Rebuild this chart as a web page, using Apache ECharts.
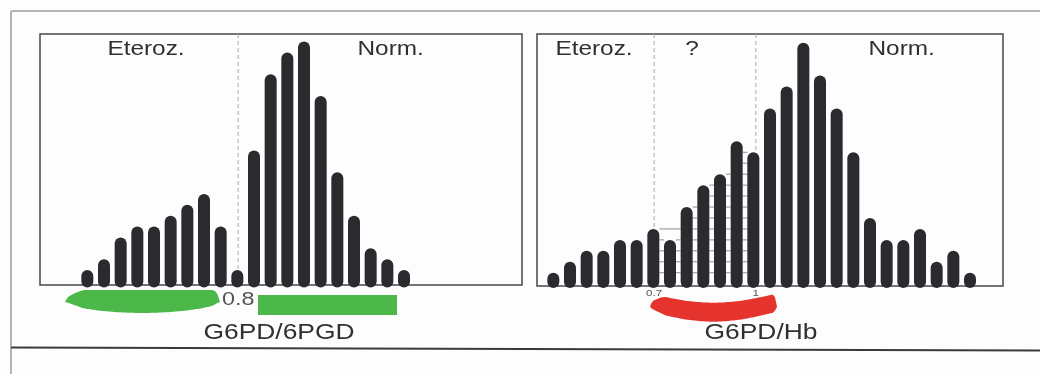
<!DOCTYPE html>
<html>
<head>
<meta charset="utf-8">
<script src="https://cdn.jsdelivr.net/npm/echarts@6/dist/echarts.min.js"></script>
<style>
html,body{margin:0;padding:0;background:#fdfdfd;}
#chart{width:1040px;height:374px;}
</style>
</head>
<body>
<div id="chart"></div>
<script>
// ---- data (bar index = class of the ratio, value = number of subjects) ----
const leftCounts  = [1,2,4,5,5,6,7,8,5,1,12,19,21,22,17,10,6,3,2,1];
const rightCounts = [1,2,3,3,4,4,5,4,7,9,10,13,12,16,18,22,19,16,12,6,4,4,5,2,3,1];

const leftCuts = [9.05];
const leftCutLabels = ['0.8'];
const rightCuts = [6.05, 12.15];
const rightCutLabels = ['0.7', '1'];

const leftTitleNames = ['Eteroz.', 'Norm.'];
const leftTitlePos = [3.52, 18.2];
const rightTitleNames = ['Eteroz.', '?', 'Norm.'];
const rightTitlePos = [2.44, 8.32, 20.9];

const axisTitles = ['G6PD/6PGD', 'G6PD/Hb'];

const leftGreenArc = [-1.34, 7.96];
const leftGreenBar = [10.24, 18.58];
const rightRedArc = [5.8, 13.42];
const rightHatch = [6, 12];

// ---- styling ----
const BAR = '#2a2b2e';
const TXT = '#303030';
const GREEN = '#4db84a';
const RED = '#e5332e';
const FONT = '"Liberation Sans", Arial, sans-serif';

const yRange = [[-0.37, 22.7], [-0.21, 22.8]];
const barFloor = [-0.6, -0.4];

function barSeries(g, counts) {
  return {
    type: 'custom', xAxisIndex: g, yAxisIndex: g, clip: false, z: 5,
    data: counts.map((c, i) => [i, c]),
    encode: {x: 0, y: 1},
    renderItem: function (params, api) {
      const x = api.value(0), h = api.value(1);
      const top = api.coord([x, h]);
      const bot = api.coord([x, barFloor[g]]);
      const w = api.size([1, 0])[0] * 0.72;
      return {type: 'rect', shape: {x: top[0] - w / 2, y: top[1], width: w, height: bot[1] - top[1], r: w / 2},
              style: {fill: BAR}};
    }
  };
}

function cutSeries(g, cuts, labels, fs, off) {
  return {
    type: 'custom', xAxisIndex: g, yAxisIndex: g, clip: false, z: 2,
    data: cuts.map(c => [c, 0]),
    encode: {x: 0, y: 1},
    renderItem: function (params, api) {
      const x = api.value(0);
      const a = api.coord([x, yRange[g][1]]);
      const b = api.coord([x, yRange[g][0]]);
      return {type: 'group', children: [
        {type: 'line', shape: {x1: a[0], y1: a[1], x2: b[0], y2: b[1]},
         style: {stroke: '#a8a8a8', lineWidth: 1, lineDash: [4, 3]}},
        {type: 'text', x: b[0], y: b[1] + off, scaleX: 1.3,
         style: {text: labels[params.dataIndex], fill: '#555', font: fs + 'px ' + FONT,
                 textAlign: 'center', textVerticalAlign: 'middle'}}
      ]};
    }
  };
}

function titleSeries(g, pos, names) {
  return {
    type: 'custom', xAxisIndex: g, yAxisIndex: g, clip: false, z: 4,
    data: pos.map(p => [p, 0]),
    encode: {x: 0, y: 1},
    renderItem: function (params, api) {
      const p = api.coord([api.value(0), yRange[g][1]]);
      return {type: 'text', x: p[0], y: p[1] + 15.5, scaleX: 1.25,
              style: {text: names[params.dataIndex], fill: TXT, font: '19.5px ' + FONT,
                      textAlign: 'center', textVerticalAlign: 'middle'}};
    }
  };
}

function hatchSeries(g, counts, range) {
  const segs = [];
  for (let i = range[0]; i < range[1]; i++) {
    const m = Math.min(counts[i], counts[i + 1]);
    for (let k = 1; k <= m; k++) segs.push([i, k, i + 1]);
    if (counts[i] > counts[i + 1] && i + 2 <= range[1] && counts[i + 2] >= counts[i]) {
      segs.push([i, counts[i], i + 2]);
    }
  }
  return {
    type: 'custom', xAxisIndex: g, yAxisIndex: g, clip: false, z: 3,
    data: segs,
    encode: {x: [0, 2], y: 1},
    renderItem: function (params, api) {
      const w = api.size([1, 0])[0] * 0.72;
      const a = api.coord([api.value(0), api.value(1)]);
      const b = api.coord([api.value(2), api.value(1)]);
      return {type: 'line', shape: {x1: a[0] + w / 2, y1: a[1], x2: b[0] - w / 2, y2: b[1]},
              style: {stroke: '#8c8c8c', lineWidth: 1}};
    }
  };
}

// brush-stroke shape: pixel offsets below the zero line (style only)
function stroke(px0, px1, y0, sp) {
  const top = [], bot = [];
  const N = 60;
  for (let j = 0; j <= N; j++) {
    const t = j / N;
    const x = px0 + t * (px1 - px0);
    const s = Math.sin(Math.PI * t);
    const g = Math.pow(Math.min(1, t / sp.tl), 0.5) * Math.pow(Math.min(1, (1 - t) / sp.tr), 0.5);
    const tp = sp.top[0] + sp.top[1] * s;
    const bt = sp.bot[0] + sp.bot[1] * Math.pow(s, sp.bot[2]);
    top.push([x, y0 + sp.tip + (tp - sp.tip) * g]);
    bot.push([x, y0 + sp.tip + (bt - sp.tip) * g]);
  }
  return top.concat(bot.reverse());
}

function arcSeries(g, range, color, sp) {
  return {
    type: 'custom', xAxisIndex: g, yAxisIndex: g, clip: false, z: 6,
    data: [[range[0], 0, range[1]]],
    encode: {x: [0, 2], y: 1},
    renderItem: function (params, api) {
      const a = api.coord([api.value(0), 0]);
      const b = api.coord([api.value(2), 0]);
      return {type: 'polygon', shape: {points: stroke(a[0], b[0], a[1], sp), smooth: 0.2},
              style: {fill: color}};
    }
  };
}

function rangeBarSeries(g, range, color) {
  return {
    type: 'custom', xAxisIndex: g, yAxisIndex: g, clip: false, z: 6,
    data: [[range[0], 0, range[1]]],
    encode: {x: [0, 2], y: 1},
    renderItem: function (params, api) {
      const a = api.coord([api.value(0), 0]);
      const b = api.coord([api.value(2), 0]);
      return {type: 'rect', shape: {x: a[0], y: a[1] + 14, width: b[0] - a[0], height: 20},
              style: {fill: color}};
    }
  };
}

const chart = echarts.init(document.getElementById('chart'), null, {renderer: 'canvas'});
chart.setOption({
  animation: false,
  backgroundColor: '#fdfdfd',
  grid: [
    {left: 40, top: 34, width: 482, height: 251, show: true, borderColor: '#474747', borderWidth: 1.5, backgroundColor: 'transparent'},
    {left: 537, top: 34, width: 466, height: 252, show: true, borderColor: '#474747', borderWidth: 1.5, backgroundColor: 'transparent'}
  ],
  xAxis: [
    {gridIndex: 0, type: 'value', min: -2.84, max: 26.08, show: false},
    {gridIndex: 1, type: 'value', min: -0.98, max: 26.98, show: false}
  ],
  yAxis: [
    {gridIndex: 0, type: 'value', min: yRange[0][0], max: yRange[0][1], show: false},
    {gridIndex: 1, type: 'value', min: yRange[1][0], max: yRange[1][1], show: false}
  ],
  graphic: [
    {type: 'line', shape: {x1: 11, y1: 11, x2: 1040, y2: 11}, style: {stroke: '#b4b4b4', lineWidth: 2}},
    {type: 'line', shape: {x1: 11, y1: 11, x2: 11, y2: 374}, style: {stroke: '#b4b4b4', lineWidth: 2}},
    {type: 'line', shape: {x1: 11, y1: 347.5, x2: 1040, y2: 350.5}, style: {stroke: '#3a3a3a', lineWidth: 2}},
    {type: 'text', x: 279, y: 333, scaleX: 1.2,
     style: {text: axisTitles[0], fill: TXT, font: '22px ' + FONT, textAlign: 'center', textVerticalAlign: 'middle'}},
    {type: 'text', x: 761, y: 333, scaleX: 1.2,
     style: {text: axisTitles[1], fill: TXT, font: '22px ' + FONT, textAlign: 'center', textVerticalAlign: 'middle'}}
  ],
  series: [
    cutSeries(0, leftCuts, leftCutLabels, 18, 15),
    cutSeries(1, rightCuts, rightCutLabels, 9, 8),
    hatchSeries(1, rightCounts, rightHatch),
    barSeries(0, leftCounts),
    barSeries(1, rightCounts),
    titleSeries(0, leftTitlePos, leftTitleNames),
    titleSeries(1, rightTitlePos, rightTitleNames),
    arcSeries(0, leftGreenArc, GREEN, {tip: 21, top: [9, 0], bot: [20, 12, 0.5], tl: 0.12, tr: 0.04}),
    rangeBarSeries(0, leftGreenBar, GREEN),
    arcSeries(1, rightRedArc, RED, {tip: 23, top: [10, 9], bot: [28, 10, 1], tl: 0.12, tr: 0.03})
  ]
});
</script>
</body>
</html>
